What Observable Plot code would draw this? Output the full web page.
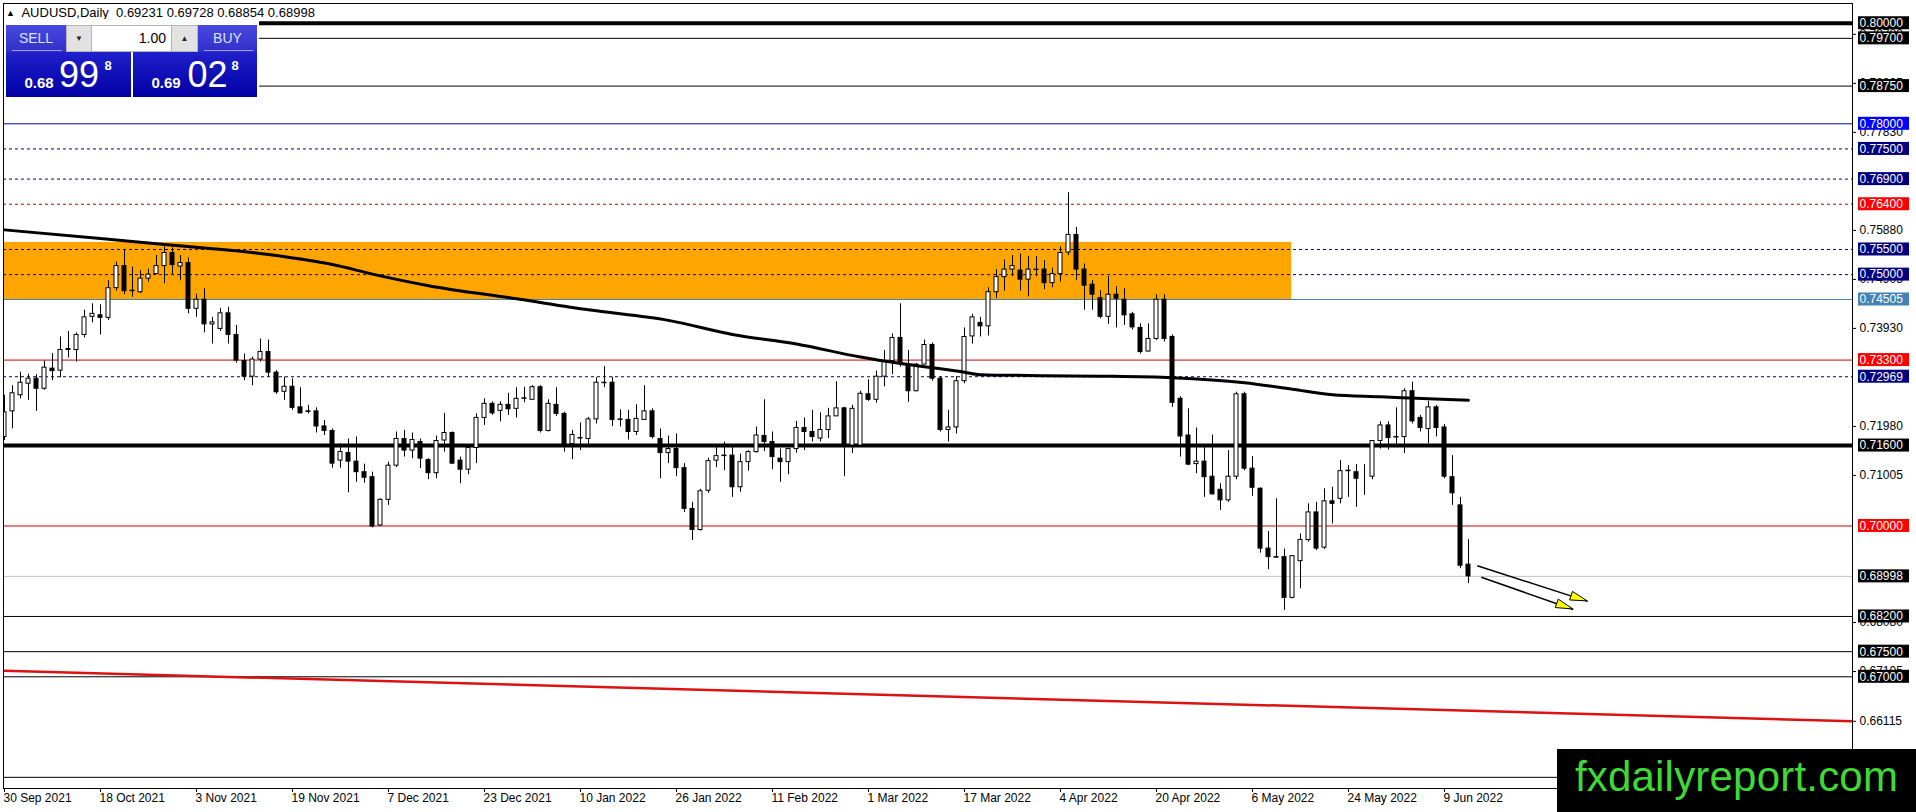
<!DOCTYPE html>
<html><head><meta charset="utf-8">
<script src="https://cdn.jsdelivr.net/npm/d3@7"></script>
<script src="https://cdn.jsdelivr.net/npm/@observablehq/plot@0.6"></script>
<style>
html,body{margin:0;padding:0;background:#fff;}
#wrap{position:relative;width:1916px;height:812px;overflow:hidden;font-family:"Liberation Sans",Arial,sans-serif;}
#chart{position:absolute;left:0;top:0;}
.ov{position:absolute;box-sizing:border-box;}
#title{left:6px;top:6px;font-size:13px;line-height:13px;color:#000;white-space:pre;}
#title .tri{font-size:9px;vertical-align:1px;}
#panelBg{left:4px;top:19px;width:255px;height:80px;background:#fff;}
.btn{top:25px;height:27px;background:linear-gradient(#4848e4,#3030c8);color:#dde2ff;font-size:14px;line-height:27px;text-align:center;}
.btn .sep{position:absolute;left:6px;right:4px;bottom:1px;height:1px;background:#9a9af0;}
.spin{top:25px;height:27px;background:#e2e2e2;border:1px solid #b4b4b4;font-size:8px;line-height:25px;text-align:center;color:#222;}
#lot{left:92px;top:25px;width:79px;height:27px;background:#fff;border-top:1px solid #b4b4b4;border-bottom:1px solid #b4b4b4;font-size:14px;line-height:25px;text-align:right;padding-right:5px;color:#000;}
.price{top:52px;height:45px;background:linear-gradient(#2020cc,#0000a4);color:#fff;}
.price span{position:absolute;white-space:pre;}
.p1{font-size:15px;line-height:15px;font-weight:bold;left:18.5px;top:22.5px;}
.p2{font-size:36px;line-height:36px;top:4.5px;}
.p3{font-size:13px;line-height:13px;font-weight:bold;left:98.5px;top:7px;}
#wm{left:1557px;top:749px;width:359px;height:63px;background:#000;color:#3fd934;font-size:42px;line-height:55px;text-align:center;letter-spacing:0.2px;}
</style></head>
<body>
<div id="wrap">
  <div id="chart"></div>
  <div class="ov" id="title"><span class="tri">▲</span>  AUDUSD,Daily  0.69231 0.69728 0.68854 0.68998</div>
  <div class="ov" id="panelBg"></div>
  <div class="ov btn" style="left:6px;width:60px;">SELL<div class="sep"></div></div>
  <div class="ov spin" style="left:66px;width:26px;">▼</div>
  <div class="ov" id="lot">1.00</div>
  <div class="ov spin" style="left:171px;width:27px;">▲</div>
  <div class="ov btn" style="left:198px;width:59px;">BUY<div class="sep"></div></div>
  <div class="ov price" style="left:6px;width:125px;"><span class="p1">0.68</span><span class="p2" style="left:53px;">99</span><span class="p3">8</span></div>
  <div class="ov price" style="left:133px;width:124px;"><span class="p1">0.69</span><span class="p2" style="left:54.5px;">02</span><span class="p3">8</span></div>
  <div class="ov" id="wm">fxdailyreport.com</div>
</div>
<script>
// ---- Daily candles AUDUSD, bar 0 = 30 Sep 2021 ... bar 183 = 14 Jun 2022
const opens = [
0.7177,0.7228,0.7260,0.7283,0.7293,0.7273,0.7313,0.7309,0.7352,0.7350,
0.7380,0.7416,0.7419,0.7414,0.7473,0.7517,0.7468,0.7465,0.7492,0.7501,
0.7517,0.7543,0.7516,0.7523,0.7432,0.7450,0.7401,0.7392,0.7423,0.7380,
0.7328,0.7297,0.7331,0.7346,0.7305,0.7267,0.7277,0.7236,0.7228,0.7228,
0.7198,0.7189,0.7130,0.7145,0.7128,0.7107,0.7097,0.7001,0.7052,0.7120,
0.7173,0.7150,0.7167,0.7131,0.7105,0.7170,0.7185,0.7130,0.7112,0.7155,
0.7215,0.7243,0.7229,0.7241,0.7233,0.7254,0.7251,0.7276,0.7189,0.7241,
0.7223,0.7163,0.7175,0.7173,0.7212,0.7284,0.7285,0.7212,0.7211,0.7187,
0.7211,0.7228,0.7173,0.7145,0.7153,0.7115,0.7034,0.6992,0.7070,0.7130,
0.7140,0.7140,0.7077,0.7127,0.7147,0.7179,0.7167,0.7134,0.7127,0.7153,
0.7195,0.7187,0.7174,0.7191,0.7218,0.7234,0.7160,0.7160,0.7262,0.7251,
0.7297,0.7328,0.7374,0.7321,0.7268,0.7321,0.7360,0.7293,0.7191,0.7196,
0.7288,0.7377,0.7404,0.7397,0.7465,0.7495,0.7510,0.7508,0.7490,0.7510,
0.7510,0.7483,0.7501,0.7544,0.7579,0.7510,0.7480,0.7453,0.7416,0.7460,
0.7450,0.7421,0.7394,0.7347,0.7372,0.7450,0.7376,0.7253,0.7180,0.7123,
0.7128,0.7098,0.7072,0.7051,0.7098,0.7262,0.7114,0.7074,0.6955,0.6938,
0.6938,0.6857,0.6930,0.6972,0.7027,0.6957,0.7049,0.7054,0.7110,0.7107,
0.7098,0.7098,0.7169,0.7200,0.7176,0.7177,0.7268,0.7215,0.7193,0.7236,
0.7196,0.7097,0.7041,0.69231];
const highs = [
0.7260,0.7279,0.7306,0.7302,0.7301,0.7328,0.7343,0.7376,0.7387,0.7384,
0.7429,0.7442,0.7440,0.7488,0.7525,0.7549,0.7515,0.7508,0.7511,0.7538,
0.7555,0.7553,0.7538,0.7533,0.7461,0.7472,0.7415,0.7433,0.7435,0.7399,
0.7342,0.7336,0.7372,0.7370,0.7309,0.7296,0.7293,0.7275,0.7240,0.7235,
0.7210,0.7193,0.7163,0.7173,0.7177,0.7123,0.7107,0.7054,0.7127,0.7187,
0.7190,0.7185,0.7173,0.7134,0.7179,0.7224,0.7187,0.7137,0.7162,0.7223,
0.7253,0.7247,0.7247,0.7264,0.7275,0.7276,0.7279,0.7279,0.7251,0.7275,
0.7226,0.7190,0.7205,0.7216,0.7295,0.7317,0.7296,0.7231,0.7230,0.7241,
0.7279,0.7233,0.7193,0.7179,0.7183,0.7124,0.7047,0.7073,0.7135,0.7157,
0.7167,0.7157,0.7143,0.7150,0.7197,0.7251,0.7187,0.7153,0.7155,0.7208,
0.7215,0.7230,0.7225,0.7234,0.7287,0.7236,0.7240,0.7268,0.7291,0.7308,
0.7349,0.7382,0.7442,0.7349,0.7323,0.7370,0.7364,0.7297,0.7230,0.7297,
0.7394,0.7421,0.7415,0.7474,0.7510,0.7529,0.7538,0.7541,0.7536,0.7536,
0.7528,0.7513,0.7555,0.7663,0.7594,0.7521,0.7488,0.7468,0.7496,0.7476,
0.7472,0.7425,0.7402,0.7402,0.7460,0.7460,0.7380,0.7257,0.7233,0.7195,
0.7162,0.7181,0.7084,0.7150,0.7266,0.7266,0.7138,0.7076,0.6989,0.7054,
0.6954,0.6941,0.6984,0.7044,0.7047,0.7074,0.7077,0.7130,0.7120,0.7122,
0.7122,0.7170,0.7207,0.7207,0.7235,0.7273,0.7286,0.7220,0.7248,0.7240,
0.7202,0.7140,0.7057,0.69728];
const lows = [
0.7170,0.7193,0.7253,0.7250,0.7228,0.7270,0.7289,0.7295,0.7334,0.7326,
0.7374,0.7404,0.7380,0.7409,0.7467,0.7460,0.7455,0.7462,0.7485,0.7500,
0.7482,0.7500,0.7488,0.7422,0.7415,0.7384,0.7362,0.7387,0.7362,0.7324,
0.7289,0.7279,0.7326,0.7296,0.7262,0.7250,0.7230,0.7223,0.7223,0.7185,
0.7180,0.7115,0.7115,0.7066,0.7087,0.7085,0.6996,0.6999,0.7041,0.7116,
0.7137,0.7134,0.7114,0.7092,0.7094,0.7147,0.7122,0.7084,0.7102,0.7124,
0.7200,0.7220,0.7207,0.7220,0.7215,0.7245,0.7250,0.7185,0.7187,0.7218,
0.7147,0.7132,0.7150,0.7162,0.7203,0.7275,0.7198,0.7197,0.7171,0.7180,
0.7210,0.7173,0.7094,0.7124,0.7098,0.7027,0.6971,0.6990,0.7065,0.7116,
0.7110,0.7057,0.7067,0.7109,0.7145,0.7148,0.7112,0.7087,0.7102,0.7145,
0.7150,0.7167,0.7167,0.7174,0.7218,0.7098,0.7144,0.7160,0.7248,0.7244,
0.7277,0.7301,0.7316,0.7246,0.7267,0.7321,0.7288,0.7187,0.7167,0.7183,
0.7283,0.7362,0.7376,0.7378,0.7452,0.7467,0.7496,0.7467,0.7456,0.7496,
0.7470,0.7474,0.7485,0.7538,0.7488,0.7429,0.7429,0.7412,0.7401,0.7394,
0.7399,0.7390,0.7342,0.7346,0.7369,0.7366,0.7236,0.7137,0.7120,0.7104,
0.7057,0.7061,0.7031,0.7047,0.7092,0.7110,0.7059,0.6946,0.6913,0.6936,
0.6832,0.6855,0.6875,0.6968,0.6951,0.6953,0.7004,0.7044,0.7057,0.7037,
0.7061,0.7092,0.7153,0.7151,0.7160,0.7144,0.7203,0.7187,0.7163,0.7177,
0.7094,0.7041,0.6915,0.68854];
const closes = [
0.7226,0.7264,0.7285,0.7293,0.7273,0.7315,0.7308,0.7350,0.7350,0.7380,
0.7415,0.7422,0.7414,0.7473,0.7517,0.7467,0.7467,0.7492,0.7500,0.7517,
0.7543,0.7519,0.7523,0.7432,0.7450,0.7401,0.7405,0.7423,0.7380,0.7329,
0.7297,0.7331,0.7346,0.7305,0.7266,0.7277,0.7235,0.7224,0.7227,0.7198,
0.7189,0.7124,0.7147,0.7128,0.7107,0.7096,0.6999,0.7052,0.7120,0.7173,
0.7150,0.7171,0.7134,0.7105,0.7169,0.7185,0.7124,0.7112,0.7155,0.7215,
0.7243,0.7224,0.7241,0.7232,0.7253,0.7253,0.7276,0.7189,0.7243,0.7223,
0.7163,0.7181,0.7174,0.7212,0.7285,0.7285,0.7211,0.7211,0.7187,0.7213,
0.7228,0.7177,0.7145,0.7153,0.7115,0.7034,0.6992,0.7069,0.7129,0.7139,
0.7139,0.7077,0.7127,0.7147,0.7180,0.7167,0.7137,0.7127,0.7153,0.7195,
0.7187,0.7177,0.7191,0.7218,0.7234,0.7160,0.7233,0.7263,0.7251,0.7297,
0.7328,0.7374,0.7324,0.7268,0.7321,0.7360,0.7293,0.7191,0.7196,0.7288,
0.7376,0.7415,0.7397,0.7465,0.7495,0.7510,0.7517,0.7490,0.7510,0.7509,
0.7483,0.7501,0.7543,0.7579,0.7510,0.7478,0.7460,0.7416,0.7460,0.7452,
0.7419,0.7395,0.7346,0.7372,0.7450,0.7372,0.7245,0.7178,0.7122,0.7128,
0.7097,0.7063,0.7051,0.7098,0.7262,0.7114,0.7076,0.6955,0.6938,0.6937,
0.6857,0.6940,0.6972,0.7027,0.6955,0.7049,0.7044,0.7109,0.7109,0.7094,
0.7098,0.7169,0.7200,0.7175,0.7177,0.7268,0.7208,0.7195,0.7236,0.7195,
0.7098,0.7065,0.6921,0.68998];

// moving average (read at anchor bars)
const maBars   = [0, 12, 20, 25, 33, 41, 46, 53, 64, 73, 83, 91, 99, 107, 112, 120, 122, 130, 137, 146, 155, 161, 166, 172, 178, 183];
const maValues = [0.7589,0.7572,0.7560,0.7553,0.7540,0.7520,0.7501,0.7478,0.7452,0.7430,0.7409,0.7381,0.7362,0.7336,0.7323,0.7306,0.7301,0.7299,0.7298,0.7295,0.7285,0.7272,0.7261,0.7257,0.7253,0.7250];

// horizontal levels
const levelPrices = [0.80000,0.79700,0.78750,0.78000,0.77500,0.76900,0.76400,0.75500,0.75000,0.74505,0.73300,0.72969,0.71600,0.70000,0.68998,0.68200,0.67500,0.67000,0.65000];
const levelKinds  = ["thick","solid","solid","blue","dash","dash","reddash","dash","dash","steel","red","dash","thick","red","bid","solid","solid","solid","solid"];

// plain price-axis ticks (those not hidden under a level box)
const yTickValues = [0.79780,0.78805,0.77830,0.75880,0.74905,0.73930,0.71980,0.71005,0.68080,0.67105,0.66115];

// date axis
const xTickBars   = [0,12,24,36,48,60,72,84,96,108,120,132,144,156,168,180];
const xTickLabels = ["30 Sep 2021","18 Oct 2021","3 Nov 2021","19 Nov 2021","7 Dec 2021","23 Dec 2021","10 Jan 2022","26 Jan 2022","11 Feb 2022","1 Mar 2022","17 Mar 2022","4 Apr 2022","20 Apr 2022","6 May 2022","24 May 2022","9 Jun 2022"];

// supply zone rectangle
const zoneBars   = [-10, 160.9];
const zonePrices = [0.74505, 0.7564];

// long red trend line
const trendBars   = [0, 231];
const trendPrices = [0.6712, 0.66115];

// two forecast arrows
const arrowFromBars   = [184.1, 184.6];
const arrowFromPrices = [0.6921, 0.6898];
const arrowToBars     = [197.9, 196.1];
const arrowToPrices   = [0.6850, 0.6834];

// ---- build tables
const candles = opens.map((o, i) => ({i, o, h: highs[i], l: lows[i], c: closes[i], up: closes[i] >= o}));
const ma = maBars.map((b, k) => ({i: b, p: maValues[k]}));
const kindStyle = {
  thick:   {stroke:"#000000", width:4, dash:false, box:"#000000"},
  solid:   {stroke:"#000000", width:1, dash:false, box:"#000000"},
  blue:    {stroke:"#0000c0", width:1, dash:false, box:"#0000ff"},
  dash:    {stroke:"#000080", width:1, dash:true,  box:"#000080"},
  reddash: {stroke:"#c00000", width:1, dash:true,  box:"#ff0000"},
  steel:   {stroke:"#4682b4", width:1, dash:false, box:"#4682b4"},
  red:     {stroke:"#d00000", width:1, dash:false, box:"#ff0000"},
  bid:     {stroke:"#c0c0c0", width:1, dash:false, box:"#000000"}
};
const levels = levelPrices.map((p, k) => ({p, ...kindStyle[levelKinds[k]]}));
const zone = [{x1: zoneBars[0], x2: zoneBars[1], y1: zonePrices[0], y2: zonePrices[1]}];
const trend = trendBars.map((b, k) => ({i: b, p: trendPrices[k]}));
const arrows = arrowFromBars.map((b, k) => ({x1: b, y1: arrowFromPrices[k], x2: arrowToBars[k], y2: arrowToPrices[k]}));

const W = 1916, H = 812, mL = 3, mR = 64, mT = 3, mB = 24;
const frameW = W - mL - mR, frameH = H - mT - mB;

const plot = Plot.plot({
  width: W, height: H,
  marginLeft: mL, marginRight: mR, marginTop: mT, marginBottom: mB,
  x: {domain: [-0.125, 231], axis: null},
  y: {domain: [0.64778, 0.80393], axis: null},
  color: {type: "identity"},
  style: {fontFamily: "'Liberation Sans', Arial, sans-serif", fontSize: "12px", background: "#ffffff", color: "#000"},
  marks: [
    Plot.rect(zone, {x1: "x1", x2: "x2", y1: "y1", y2: "y2", fill: "#ffa500", clip: true}),
    Plot.ruleY(levels.filter(d => !d.dash), {y: "p", stroke: "stroke", strokeWidth: "width"}),
    Plot.ruleY(levels.filter(d => d.dash), {y: "p", stroke: "stroke", strokeWidth: "width", strokeDasharray: "3,3"}),
    Plot.line(trend, {x: "i", y: "p", stroke: "#dd1111", strokeWidth: 2.5, clip: true}),
    Plot.link(arrows, {x1: "x1", y1: "y1", x2: "x2", y2: "y2", stroke: "#000", strokeWidth: 1.5}),
    Plot.ruleX(candles, {x: "i", y1: "l", y2: "h", stroke: "#000", strokeWidth: 1, clip: true}),
    Plot.rect(candles, {x1: d => d.i - 0.25, x2: d => d.i + 0.25, y1: "o", y2: "c", fill: d => d.up ? "#ffffff" : "#000000", stroke: "#000", strokeWidth: 1, clip: true}),
    Plot.line(ma, {x: "i", y: "p", stroke: "#000", strokeWidth: 3, curve: "monotone-x", clip: true}),
    Plot.frame({stroke: "#000"}),
    // date axis
    Plot.ruleX(xTickBars, {x: d => d, insetTop: frameH, insetBottom: -4, stroke: "#000"}),
    Plot.text(xTickBars, {x: d => d, text: (d, k) => xTickLabels[k], frameAnchor: "bottom", textAnchor: "start", dx: -1, dy: 13, fontSize: 12, fill: "#000"}),
    // price axis plain ticks
    Plot.ruleY(yTickValues, {y: d => d, insetLeft: frameW, insetRight: -4, stroke: "#000"}),
    Plot.text(yTickValues, {y: d => d, text: d => d.toFixed(5), frameAnchor: "right", textAnchor: "start", dx: 7, fontSize: 12, fill: "#000"}),
    // level label boxes
    Plot.rect(levels, {y1: "p", y2: "p", fill: "box", insetLeft: frameW + 6, insetRight: -57, insetTop: -6.5, insetBottom: -6.5}),
    Plot.text(levels, {y: "p", text: d => d.p.toFixed(5), frameAnchor: "right", textAnchor: "start", dx: 7, fontSize: 12, fill: "#ffffff"})
  ]
});
document.getElementById("chart").append(plot);

// arrow heads, positioned through the plot's own scales
const sx = plot.scale("x"), sy = plot.scale("y");
const fx = sx.apply ? v => sx.apply(v) : d3.scaleLinear(sx.domain, sx.range);
const fy = sy.apply ? v => sy.apply(v) : d3.scaleLinear(sy.domain, sy.range);
const g = d3.select(plot).append("g");
arrows.forEach(a => {
  const x0 = fx(a.x1), y0 = fy(a.y1), x1 = fx(a.x2), y1 = fy(a.y2);
  const L = Math.hypot(x1 - x0, y1 - y0), ux = (x1 - x0) / L, uy = (y1 - y0) / L;
  const bx = x1 - 17 * ux, by = y1 - 17 * uy;
  const pts = [[x1, y1], [bx - 4.5 * uy, by + 4.5 * ux], [bx + 4.5 * uy, by - 4.5 * ux]];
  g.append("polygon").attr("points", pts.map(p => p.join(",")).join(" "))
    .attr("fill", "#ffff00").attr("stroke", "#000").attr("stroke-width", 1);
});
</script>
</body></html>
